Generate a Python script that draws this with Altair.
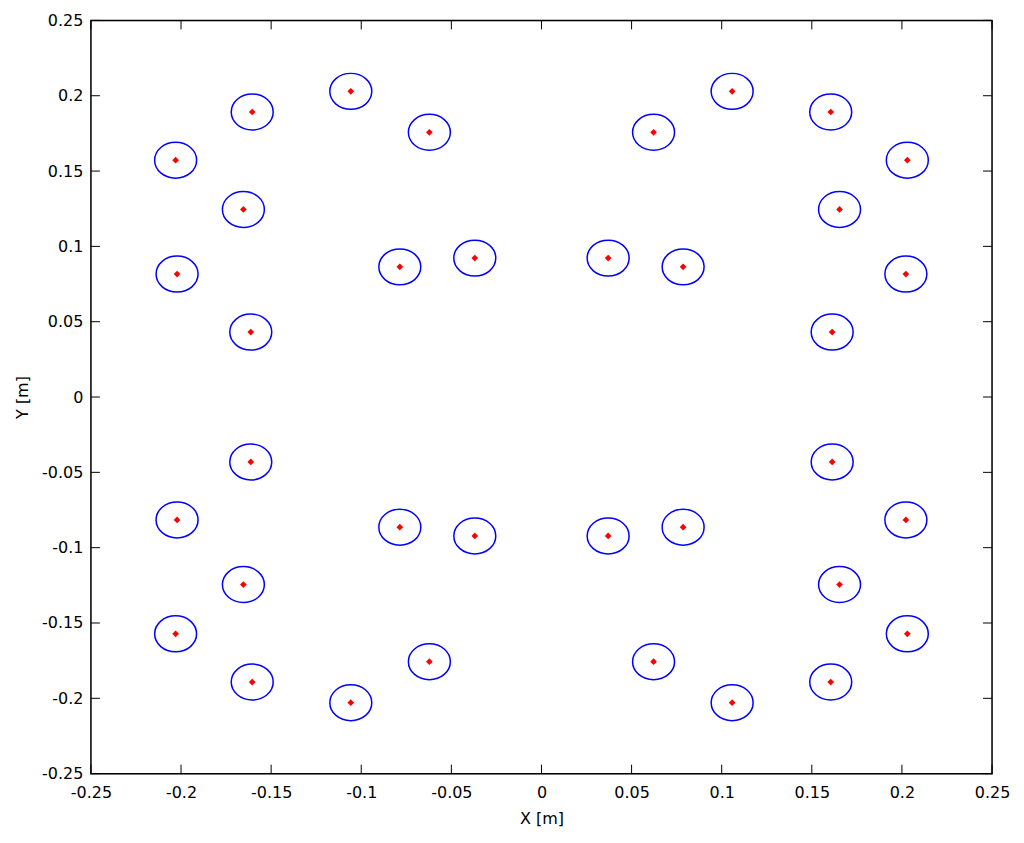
import altair as alt
import pandas as pd

# Sensor / point positions [m]
x_vals = [0.1058, 0.1605, 0.0622, 0.2030, 0.1654, 0.0370, 0.0786, 0.2022, 0.1613,
          -0.1058, -0.1605, -0.0622, -0.2030, -0.1654, -0.0370, -0.0786, -0.2022, -0.1613,
          0.1058, 0.1605, 0.0622, 0.2030, 0.1654, 0.0370, 0.0786, 0.2022, 0.1613,
          -0.1058, -0.1605, -0.0622, -0.2030, -0.1654, -0.0370, -0.0786, -0.2022, -0.1613]
y_vals = [0.2029, 0.1892, 0.1757, 0.1572, 0.1245, 0.0922, 0.0864, 0.0816, 0.0431,
          0.2029, 0.1892, 0.1757, 0.1572, 0.1245, 0.0922, 0.0864, 0.0816, 0.0431,
          -0.2029, -0.1892, -0.1757, -0.1572, -0.1245, -0.0922, -0.0864, -0.0816, -0.0431,
          -0.2029, -0.1892, -0.1757, -0.1572, -0.1245, -0.0922, -0.0864, -0.0816, -0.0431]

tick_vals = [-0.25, -0.2, -0.15, -0.1, -0.05, 0, 0.05, 0.1, 0.15, 0.2, 0.25]

W, H = 902, 754
TL = 9
FONT = "DejaVu Sans"

pts = pd.DataFrame({"x": x_vals, "y": y_vals})
ticks = pd.DataFrame({"t": tick_vals})

label_expr = "datum.value == 0 ? '0' : (datum.value < 0 ? '-' : '') + format(abs(datum.value), '~g')"

xs = alt.Scale(domain=[-0.25, 0.25], nice=False, zero=False)
ys = alt.Scale(domain=[-0.25, 0.25], nice=False, zero=False)

xaxis = alt.Axis(values=tick_vals, ticks=False, domain=False, grid=False,
                 labelExpr=label_expr, labelFontSize=16, labelFont=FONT,
                 labelColor="#000", labelPadding=11, title="X [m]", titleFontSize=16,
                 titleFont=FONT, titleFontWeight="normal", titleColor="#000",
                 titlePadding=10, labelFlush=False, labelOverlap=False)
yaxis = alt.Axis(values=tick_vals, ticks=False, domain=False, grid=False,
                 labelExpr=label_expr, labelFontSize=16, labelFont=FONT,
                 labelColor="#000", labelPadding=8, title="Y [m]", titleFontSize=16,
                 titleFont=FONT, titleFontWeight="normal", titleColor="#000",
                 titlePadding=11, labelFlush=False, labelOverlap=False)

ellipse = "M -1 0 A 1 0.857 0 1 1 1 0 A 1 0.857 0 1 1 -1 0 Z"

base = alt.Chart(pts)

circles = base.mark_point(shape=ellipse, filled=False, color="#0000ff", strokeWidth=1.5,
                          size=1764, opacity=1).encode(
    x=alt.X("x:Q", scale=xs, axis=xaxis),
    y=alt.Y("y:Q", scale=ys, axis=yaxis),
)
dots = base.mark_point(shape="diamond", filled=True, color="#ff0000", size=45, opacity=1).encode(
    x=alt.X("x:Q", scale=xs),
    y=alt.Y("y:Q", scale=ys),
)

tk = alt.Chart(ticks)
xt_bot = tk.mark_rule(color="#000", strokeWidth=1).encode(
    x=alt.X("t:Q", scale=xs), y=alt.value(H), y2=alt.value(H - TL))
xt_top = tk.mark_rule(color="#000", strokeWidth=1).encode(
    x=alt.X("t:Q", scale=xs), y=alt.value(0), y2=alt.value(TL))
yt_left = tk.mark_rule(color="#000", strokeWidth=1).encode(
    y=alt.Y("t:Q", scale=ys), x=alt.value(0), x2=alt.value(TL))
yt_right = tk.mark_rule(color="#000", strokeWidth=1).encode(
    y=alt.Y("t:Q", scale=ys), x=alt.value(W), x2=alt.value(W - TL))

# plot box
frame = alt.Chart(pd.DataFrame({"k": [0]})).mark_rect(
    fill=None, stroke="#000", strokeWidth=1.5).encode(
    x=alt.value(0), x2=alt.value(W), y=alt.value(0), y2=alt.value(H))

chart = alt.layer(circles, dots, xt_bot, xt_top, yt_left, yt_right, frame).properties(
    width=W, height=H,
    autosize=alt.AutoSizeParams(type="none"),
    padding={"left": 83, "top": 12, "right": 24, "bottom": 62},
).configure_view(stroke=None).configure(background="white")

chart.save("out.html", embed_options={"renderer": "svg", "actions": False})
